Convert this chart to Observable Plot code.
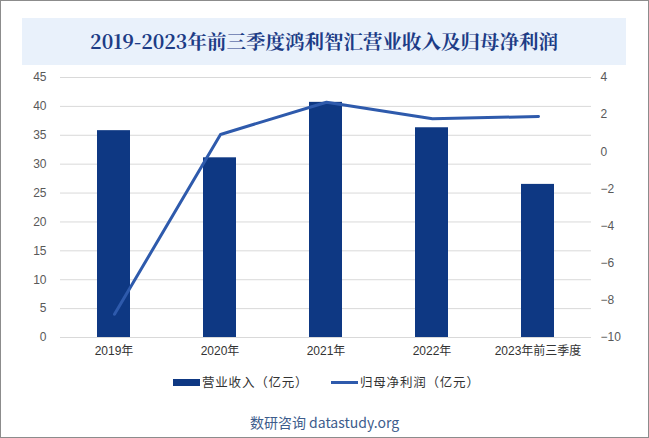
<!DOCTYPE html>
<html><head><meta charset="utf-8">
<script src="https://cdn.jsdelivr.net/npm/d3@7"></script>
<script src="https://cdn.jsdelivr.net/npm/@observablehq/plot@0.6"></script>
<style>
html,body{margin:0;padding:0;background:#fff;}
#wrap{position:relative;width:647px;height:436px;border:1px solid #8c8c8c;background:#fff;overflow:hidden;font-family:"Liberation Sans","Noto Sans CJK SC",sans-serif;}
#title{position:absolute;left:21px;top:17px;width:604px;height:47px;background:#E9F1FB;color:#1D3C86;font-family:"Noto Serif CJK SC","Noto Sans CJK SC",serif;font-weight:bold;font-size:19.5px;line-height:47px;text-align:center;}
.plot{position:absolute;left:0;top:64px;}
#legend{position:absolute;top:372px;left:0;width:647px;height:18px;font-size:12.5px;color:#333;font-family:"Noto Sans CJK SC",sans-serif;}
.sw{position:absolute;}
.lt{position:absolute;top:0;line-height:18px;letter-spacing:0.8px;}
#src{position:absolute;top:411px;left:0;width:647px;text-align:center;font-size:14px;color:#3D5C8C;font-family:"Noto Sans CJK SC",sans-serif;}
</style></head>
<body>
<div id="wrap">
  <div id="title">2019-2023年前三季度鸿利智汇营业收入及归母净利润</div>
  <div id="p1" class="plot"></div>
  <div id="p2" class="plot"></div>
  <div id="legend">
    <div class="sw" style="left:172px;top:6px;width:27px;height:7px;background:#0E3883"></div>
    <div class="lt" style="left:201px">营业收入（亿元）</div>
    <div class="sw" style="left:330px;top:8px;width:27px;height:3px;background:#2E5AAC"></div>
    <div class="lt" style="left:359px">归母净利润（亿元）</div>
  </div>
  <div id="src">数研咨询 datastudy.org</div>
</div>
<script>
const categories = ["2019年","2020年","2021年","2022年","2023年前三季度"];
const revenue = [35.8, 31.1, 40.7, 36.3, 26.5];
const netProfit = [-8.75, 0.93, 2.67, 1.78, 1.9];
const leftTicks = [0,5,10,15,20,25,30,35,40,45];
const rightTicks = [-10,-8,-6,-4,-2,0,2,4];

const rows = categories.map((c,i)=>({c, rev: revenue[i], np: netProfit[i]}));
const W = 647, H = 300;
const common = {
  width: W, height: H,
  marginLeft: 59, marginRight: 57, marginTop: 12, marginBottom: 28,
  style: {fontFamily: '"Liberation Sans","Noto Sans CJK SC",sans-serif', fontSize: "12px", color: "#595959", background: "transparent"},
  x: {domain: categories, paddingInner: 0.69, paddingOuter: 0.345, align: 0.5}
};

const p1 = Plot.plot({
  ...common,
  y: {domain: [0,45], ticks: leftTicks},
  marks: [
    Plot.gridY(leftTicks, {stroke: "#d9d9d9", strokeOpacity: 1, strokeWidth: 1}),
    Plot.barY(rows, {x: "c", y: "rev", fill: "#0E3883"}),
    Plot.axisY(leftTicks, {anchor: "left", tickSize: 0, tickPadding: 14, fontSize: 12, fill: "#595959", label: null}),
    Plot.axisX({tickSize: 0, tickPadding: 9, fontSize: 12, fill: "#333", label: null})
  ]
});
document.getElementById("p1").appendChild(p1);

const p2 = Plot.plot({
  ...common,
  y: {domain: [-10,4], ticks: rightTicks},
  marks: [
    Plot.lineY(rows, {x: "c", y: "np", stroke: "#2E5AAC", strokeWidth: 3}),
    Plot.axisY(rightTicks, {anchor: "right", tickSize: 0, tickPadding: 9, fontSize: 12, fill: "#595959", label: null, textAnchor: "start"}),
    Plot.axisX({tickSize: 0, text: null, label: null})
  ]
});
document.getElementById("p2").appendChild(p2);
</script>
</body></html>
